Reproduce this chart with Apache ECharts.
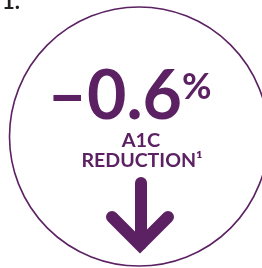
<!DOCTYPE html>
<html>
<head>
<meta charset="utf-8">
<script src="https://cdn.jsdelivr.net/npm/echarts@6/dist/echarts.min.js"></script>
<style>
html,body{margin:0;padding:0;background:#fff;}
#main{width:262px;height:268px;}
</style>
</head>
<body>
<div id="main"></div>
<script>
// valeurs du visuel
var footNote = ['1.'];
var bigValue = [-0.6];
var unit = ['%'];
var labels = ['A1C', 'REDUCTION\u00b9'];

var purple = '#5c2163';

function fmtValue(v){
	// signe moins long comme sur la maquette
	return (v < 0 ? '\u2013' : '') + Math.abs(v).toFixed(1);
}

var myChart = echarts.init(document.getElementById('main'));

var option = {
	animation: false,
	backgroundColor: '#fff',
	graphic: [
		{
			type: 'text',
			left: 2,
			top: -9,
			style: {
				text: footNote[0],
				fill: '#231f20',
				font: 'bold 22px Lato'
			}
		},
		{
			type: 'circle',
			shape: { cx: 139, cy: 136.5, r: 129.5 },
			style: { fill: 'none', stroke: purple, lineWidth: 1.6 }
		},
		{
			type: 'text',
			x: 182,
			y: 97,
			style: {
				text: fmtValue(bigValue[0]),
				fill: purple,
				font: 'bold 68px Lato',
				textAlign: 'right',
				textVerticalAlign: 'middle'
			}
		},
		{
			type: 'text',
			x: 182,
			y: 87,
			style: {
				text: unit[0],
				fill: purple,
				font: 'bold 36px Lato',
				textAlign: 'left',
				textVerticalAlign: 'middle'
			}
		},
		{
			type: 'text',
			x: 141,
			y: 141,
			scaleX: 1.05,
			style: {
				text: labels[0],
				fill: purple,
				font: 'bold 19px Lato',
				textAlign: 'center',
				textVerticalAlign: 'middle'
			}
		},
		{
			type: 'text',
			x: 142,
			y: 161,
			scaleX: 1.03,
			style: {
				text: labels[1],
				fill: purple,
				font: 'bold 19px Lato',
				textAlign: 'center',
				textVerticalAlign: 'middle'
			}
		},
		{
			type: 'polyline',
			shape: { points: [[141, 183], [141, 244]] },
			style: { stroke: purple, lineWidth: 12, lineCap: 'round', fill: null }
		},
		{
			type: 'polyline',
			shape: { points: [[112, 217], [140, 245], [168, 217]] },
			style: { stroke: purple, lineWidth: 12, lineCap: 'round', lineJoin: 'miter', fill: null }
		}
	]
};
myChart.setOption(option);
</script>
</body>
</html>
